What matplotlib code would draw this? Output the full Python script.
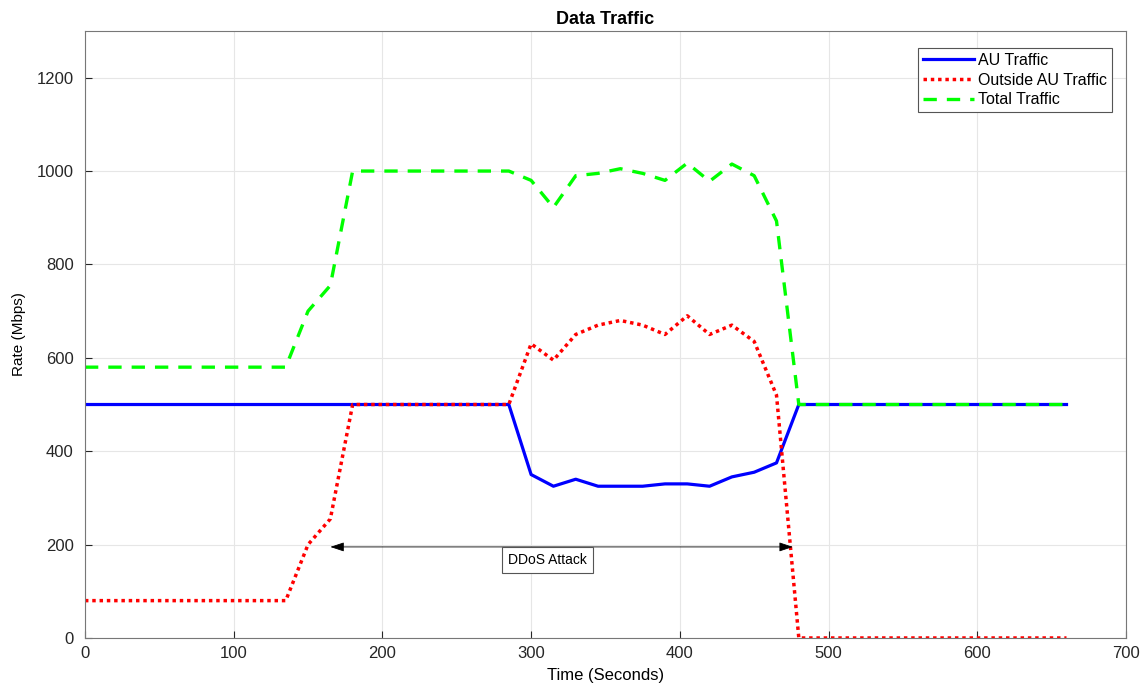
import matplotlib
matplotlib.use("Agg")
import matplotlib.pyplot as plt

# time axis, 15 s steps
t = [0, 15, 30, 45, 60, 75, 90, 105, 120, 135, 150, 165, 180, 195, 210, 225,
     240, 255, 270, 285, 300, 315, 330, 345, 360, 375, 390, 405, 420, 435,
     450, 465, 480, 495, 510, 525, 540, 555, 570, 585, 600, 615, 630, 645, 660]

au = [500] * 20 + [350, 325, 340, 325, 325, 325, 330, 330, 325, 345,
                   355, 375, 500] + [500] * 12
outside = [80] * 10 + [200, 255] + [500] * 8 + [630, 595, 650, 670, 680, 670,
                                                  650, 690, 650, 670, 635, 520,
                                                  0] + [0] * 12
total = [580] * 10 + [700, 755] + [1000] * 8 + [980, 922, 990, 995, 1005, 995,
                                                 980, 1017, 978, 1015, 990, 893,
                                                 500] + [500] * 12

attack_start, attack_end, arrow_y = 165, 476, 195
label_x, label_y = 311, 167

plt.rcParams['font.family'] = ['Liberation Sans', 'DejaVu Sans']

fig = plt.figure(figsize=(11.45, 6.88), dpi=100)
ax = fig.add_axes([0.0742, 0.0727, 0.9092, 0.8823])

ax.plot(t, au, color='#0000ff', lw=2.3, label='AU Traffic')
ax.plot(t, outside, color='#ff0000', lw=2.5, ls=(0, (1, 1.1)), label='Outside AU Traffic')
ax.plot(t, total, color='#00ff00', lw=2.4, ls=(0, (4, 3)), label='Total Traffic')

ax.annotate('', xy=(attack_end, arrow_y), xytext=(attack_start, arrow_y),
            arrowprops=dict(arrowstyle='<|-|>,head_length=0.6,head_width=0.2',
                            color='black', lw=0.6, mutation_scale=14,
                            shrinkA=0, shrinkB=0))
ax.text(label_x, label_y, 'DDoS Attack', fontsize=10,
        ha='center', va='center',
        bbox=dict(boxstyle='square,pad=0.45', fc='white', ec='#555555', lw=0.8))

ax.set_xlim(0, 700)
ax.set_ylim(0, 1300)
ax.set_xticks(range(0, 701, 100))
ax.set_yticks(range(0, 1201, 200))
ax.grid(True, color='#e6e6e6', lw=0.8)
ax.set_axisbelow(True)
ax.tick_params(direction='in', labelsize=12, colors='#262626', length=5)
ax.tick_params(axis='y', pad=8)
ax.tick_params(axis='x', pad=6)
for s in ax.spines.values():
    s.set_color('#777777')
    s.set_linewidth(0.8)

ax.set_xlabel('Time (Seconds)', fontsize=12, labelpad=5)
ax.set_ylabel('Rate (Mbps)', fontsize=11, labelpad=8)
ax.set_title('Data Traffic', fontsize=13, fontweight='bold', pad=5)

leg = ax.legend(loc='upper right', bbox_to_anchor=(0.9945, 0.985), fontsize=11.5,
                fancybox=False, framealpha=1, edgecolor='#555555',
                handlelength=3.2, borderpad=0.3, labelspacing=0.3, handletextpad=0.3)
leg.get_frame().set_linewidth(0.8)

fig.savefig('out.png', dpi=100)
